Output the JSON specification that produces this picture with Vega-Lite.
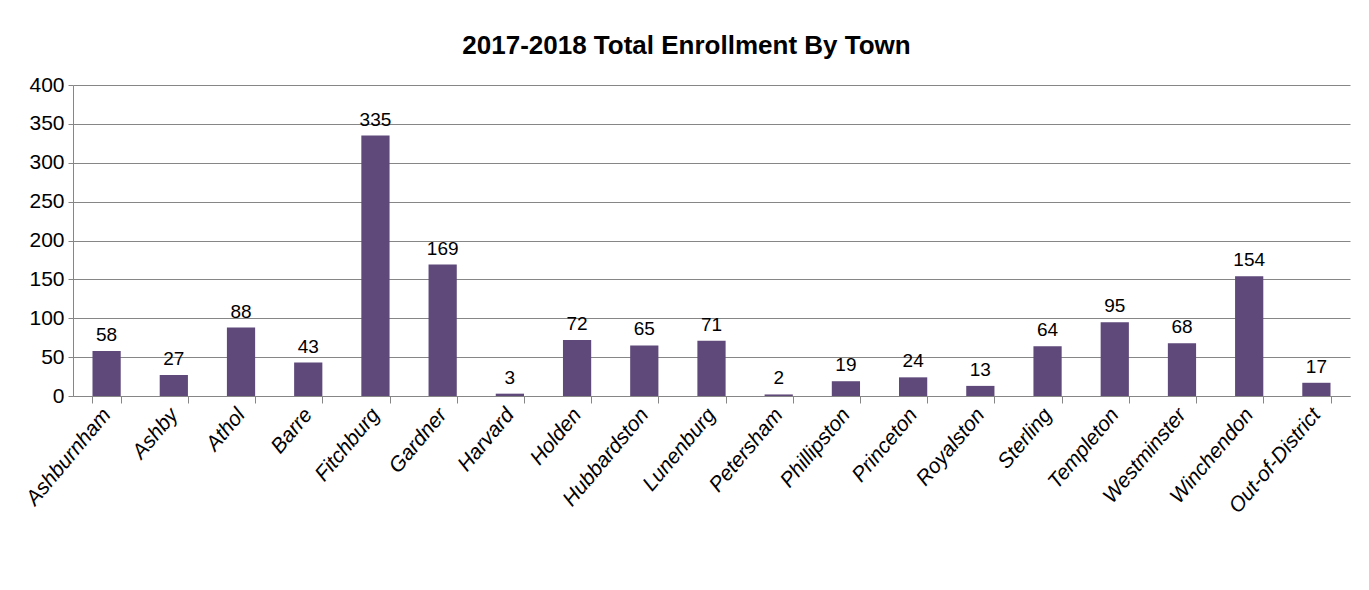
{
  "$schema": "https://vega.github.io/schema/vega-lite/v6.json",
  "width": 1277,
  "height": 311,
  "padding": {"left": 21, "top": 33, "right": 20, "bottom": 5},
  "background": "white",
  "title": {
    "text": "2017-2018 Total Enrollment By Town",
    "font": "Liberation Sans",
    "fontSize": 26,
    "fontWeight": "bold",
    "color": "#000000",
    "anchor": "middle",
    "offset": 15,
    "dx": -25
  },
  "data": {
    "values": [
      {"town": "Ashburnham", "enrollment": 58},
      {"town": "Ashby", "enrollment": 27},
      {"town": "Athol", "enrollment": 88},
      {"town": "Barre", "enrollment": 43},
      {"town": "Fitchburg", "enrollment": 335},
      {"town": "Gardner", "enrollment": 169},
      {"town": "Harvard", "enrollment": 3},
      {"town": "Holden", "enrollment": 72},
      {"town": "Hubbardston", "enrollment": 65},
      {"town": "Lunenburg", "enrollment": 71},
      {"town": "Petersham", "enrollment": 2},
      {"town": "Phillipston", "enrollment": 19},
      {"town": "Princeton", "enrollment": 24},
      {"town": "Royalston", "enrollment": 13},
      {"town": "Sterling", "enrollment": 64},
      {"town": "Templeton", "enrollment": 95},
      {"town": "Westminster", "enrollment": 68},
      {"town": "Winchendon", "enrollment": 154},
      {"town": "Out-of-District", "enrollment": 17}
    ]
  },
  "encoding": {
    "x": {
      "field": "town",
      "type": "nominal",
      "sort": null,
      "scale": {"paddingInner": 0.58, "paddingOuter": 0.29},
      "axis": {
        "title": null,
        "labelAngle": -50,
        "labelFont": "Liberation Sans",
        "labelFontStyle": "italic",
        "labelFontSize": 21,
        "labelColor": "#000000",
        "labelPadding": 8,
        "tickBand": "extent",
        "tickSize": 7,
        "tickColor": "#868686",
        "domainColor": "#868686",
        "grid": false
      }
    },
    "y": {
      "field": "enrollment",
      "type": "quantitative",
      "scale": {"domain": [0, 400], "nice": false},
      "axis": {
        "title": null,
        "values": [0, 50, 100, 150, 200, 250, 300, 350, 400],
        "labelFont": "Liberation Sans",
        "labelFontSize": 21,
        "labelColor": "#000000",
        "labelPadding": 4,
        "tickSize": 5,
        "tickColor": "#868686",
        "domainColor": "#868686",
        "gridColor": "#868686",
        "gridWidth": 1
      }
    }
  },
  "layer": [
    {"mark": {"type": "bar", "color": "#5F497A"}},
    {
      "mark": {
        "type": "text",
        "font": "Liberation Sans",
        "fontSize": 19,
        "color": "#000000",
        "baseline": "bottom",
        "dy": -6
      },
      "encoding": {"text": {"field": "enrollment", "type": "quantitative"}}
    }
  ],
  "config": {"view": {"stroke": null}}
}
